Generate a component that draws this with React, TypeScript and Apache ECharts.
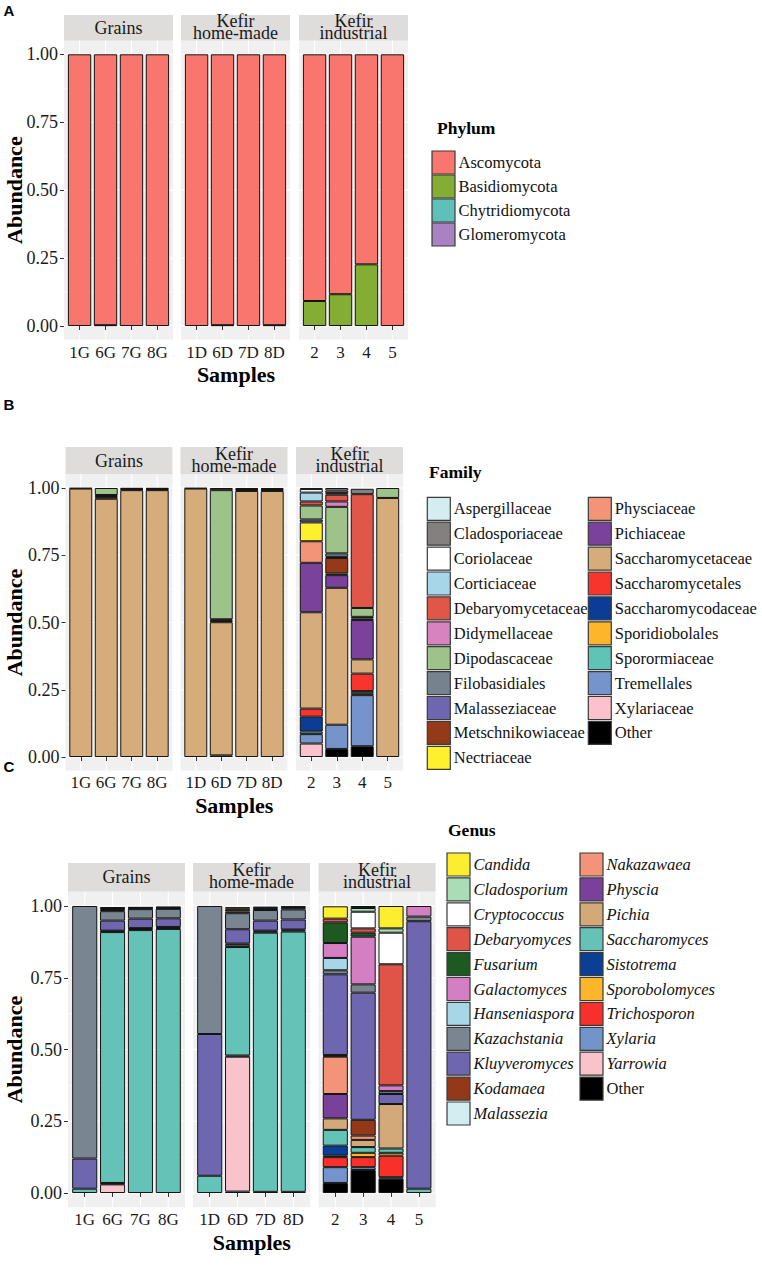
import React, { useEffect, useRef } from 'react';
import * as echarts from 'echarts';

const SERIF = 'Liberation Serif';
const SANS = 'Liberation Sans';

// ---------- shared ----------
const samples = ['1G', '6G', '7G', '8G', '1D', '6D', '7D', '8D', '2', '3', '4', '5'];
const facetTitles = ['Grains', 'Kefir\nhome-made', 'Kefir\nindustrial'];
const yTickValues = [0, 0.25, 0.5, 0.75, 1];

// ---------- Panel A: Phylum ----------
const phylumNames = ['Ascomycota', 'Basidiomycota', 'Chytridiomycota', 'Glomeromycota'];
const phylumColors = ['#F8766D', '#83AD33', '#5EC0B8', '#A882C2'];
const ascomycota = [1, 0.997, 1, 1, 1, 0.997, 1, 0.997, 0.908, 0.883, 0.773, 1];
const basidiomycota = [0, 0.003, 0, 0, 0, 0.003, 0, 0.003, 0.092, 0.117, 0.227, 0];
const chytridiomycota = [0, 0, 0, 0, 0, 0, 0, 0, 0, 0, 0, 0];
const glomeromycota = [0, 0, 0, 0, 0, 0, 0, 0, 0, 0, 0, 0];

// ---------- Panel B: Family ----------
const familyNames = ['Aspergillaceae', 'Cladosporiaceae', 'Coriolaceae', 'Corticiaceae', 'Debaryomycetaceae',
  'Didymellaceae', 'Dipodascaceae', 'Filobasidiales', 'Malasseziaceae', 'Metschnikowiaceae', 'Nectriaceae',
  'Physciaceae', 'Pichiaceae', 'Saccharomycetaceae', 'Saccharomycetales', 'Saccharomycodaceae',
  'Sporidiobolales', 'Sporormiaceae', 'Tremellales', 'Xylariaceae', 'Other'];
const familyColors = ['#D4EEF0', '#858080', '#FFFFFF', '#A6D6E8', '#E0574A', '#D783C0', '#9DC28A', '#76838F',
  '#6E67B0', '#953A19', '#FFF02E', '#F39479', '#7A429B', '#D6AC7B', '#F8352C', '#0B3D96', '#FDB62A',
  '#5EC5B6', '#7594CC', '#FBC2CB', '#000000'];
const fAspergillaceae = [0, 0, 0, 0, 0, 0, 0, 0, 0.003, 0.009, 0, 0];
const fCladosporiaceae = [0, 0, 0, 0, 0, 0, 0, 0, 0, 0.01, 0.02, 0];
const fCoriolaceae = [0, 0, 0, 0, 0, 0, 0, 0, 0.013, 0, 0, 0];
const fCorticiaceae = [0, 0, 0, 0, 0, 0, 0, 0, 0.033, 0.006, 0, 0];
const fDebaryomycetaceae = [0, 0, 0.003, 0.003, 0, 0.008, 0.004, 0.004, 0.015, 0.025, 0.423, 0];
const fDidymellaceae = [0, 0, 0, 0, 0, 0, 0, 0, 0, 0.02, 0, 0];
const fDipodascaceae = [0, 0.026, 0, 0, 0, 0.48, 0, 0, 0.052, 0.173, 0.033, 0.037];
const fFilobasidiales = [0, 0.004, 0.002, 0.002, 0, 0.004, 0.003, 0.003, 0, 0.013, 0.006, 0];
const fMalasseziaceae = [0, 0.004, 0, 0, 0, 0.003, 0, 0, 0.011, 0.004, 0.006, 0];
const fMetschnikowiaceae = [0, 0, 0, 0, 0, 0, 0, 0, 0, 0.058, 0, 0];
const fNectriaceae = [0, 0, 0, 0, 0, 0, 0, 0, 0.07, 0.006, 0, 0];
const fPhysciaceae = [0, 0, 0, 0, 0, 0, 0, 0, 0.08, 0, 0, 0];
const fPichiaceae = [0.002, 0.006, 0.003, 0.003, 0.002, 0.004, 0.004, 0.004, 0.184, 0.047, 0.146, 0];
const fSaccharomycetaceae = [0.998, 0.96, 0.992, 0.992, 0.998, 0.495, 0.989, 0.989, 0.358, 0.509, 0.053, 0.963];
const fSaccharomycetales = [0, 0, 0, 0, 0, 0, 0, 0, 0.03, 0, 0.065, 0];
const fSaccharomycodaceae = [0, 0, 0, 0, 0, 0, 0, 0, 0.055, 0, 0, 0];
const fSporidiobolales = [0, 0, 0, 0, 0, 0, 0, 0, 0, 0, 0.008, 0];
const fSporormiaceae = [0, 0, 0, 0, 0, 0, 0, 0, 0.01, 0, 0.007, 0];
const fTremellales = [0, 0, 0, 0, 0, 0, 0, 0, 0.035, 0.09, 0.19, 0];
const fXylariaceae = [0, 0, 0, 0, 0, 0, 0, 0, 0.05, 0, 0, 0];
const fOther = [0, 0, 0, 0, 0, 0.006, 0, 0, 0, 0.03, 0.04, 0];

// ---------- Panel C: Genus ----------
const genusNames = ['Candida', 'Cladosporium', 'Cryptococcus', 'Debaryomyces', 'Fusarium', 'Galactomyces',
  'Hanseniaspora', 'Kazachstania', 'Kluyveromyces', 'Kodamaea', 'Malassezia', 'Nakazawaea', 'Physcia',
  'Pichia', 'Saccharomyces', 'Sistotrema', 'Sporobolomyces', 'Trichosporon', 'Xylaria', 'Yarrowia', 'Other'];
const genusColors = ['#FBEE2E', '#A8DDB5', '#FFFFFF', '#DF5446', '#1D5A22', '#D47EC3', '#A6D6E8', '#7A8592',
  '#6E66AE', '#93391A', '#D3EEF0', '#F39479', '#7A419A', '#D4A97A', '#64C3B6', '#0B3E95', '#FDB62A',
  '#F8302A', '#7294CA', '#F9C3CC', '#000000'];
const gCandida = [0, 0.003, 0.002, 0.002, 0, 0.005, 0.003, 0.003, 0.043, 0.007, 0.078, 0];
const gCladosporium = [0, 0, 0, 0, 0, 0, 0, 0, 0, 0.013, 0.015, 0];
const gCryptococcus = [0, 0.003, 0, 0, 0, 0.004, 0, 0, 0, 0.058, 0.11, 0];
const gDebaryomyces = [0, 0.004, 0.003, 0.003, 0, 0.006, 0.004, 0.004, 0.013, 0.015, 0.422, 0];
const gFusarium = [0, 0, 0, 0, 0, 0, 0, 0, 0.072, 0.014, 0, 0];
const gGalactomyces = [0, 0.004, 0.002, 0.002, 0, 0.006, 0.004, 0.004, 0.052, 0.166, 0.02, 0.037];
const gHanseniaspora = [0, 0, 0, 0, 0, 0, 0, 0, 0.043, 0, 0, 0];
const gKazachstania = [0.88, 0.033, 0.033, 0.033, 0.446, 0.056, 0.037, 0.035, 0.014, 0.029, 0.01, 0.016];
const gKluyveromyces = [0.105, 0.035, 0.033, 0.03, 0.494, 0.05, 0.035, 0.035, 0.281, 0.443, 0.035, 0.932];
const gKodamaea = [0, 0.002, 0.003, 0.003, 0, 0.004, 0.003, 0.003, 0.003, 0.055, 0, 0];
const gMalassezia = [0, 0.003, 0.004, 0.004, 0, 0.008, 0.004, 0.004, 0.003, 0, 0, 0];
const gNakazawaea = [0, 0, 0, 0, 0, 0, 0, 0, 0.13, 0.015, 0, 0];
const gPhyscia = [0, 0, 0, 0, 0, 0, 0, 0, 0.085, 0, 0, 0];
const gPichia = [0, 0, 0, 0, 0, 0, 0, 0, 0.04, 0.025, 0.155, 0];
const gSaccharomyces = [0.015, 0.874, 0.916, 0.92, 0.06, 0.378, 0.903, 0.907, 0.055, 0.02, 0.015, 0.015];
const gSistotrema = [0, 0, 0, 0, 0, 0, 0, 0, 0.035, 0, 0, 0];
const gSporobolomyces = [0, 0.002, 0, 0, 0, 0, 0, 0, 0.005, 0.015, 0.01, 0];
const gTrichosporon = [0, 0.003, 0, 0, 0, 0.004, 0, 0, 0.035, 0.035, 0.075, 0];
const gXylaria = [0, 0, 0, 0, 0, 0, 0, 0, 0.055, 0.01, 0.005, 0];
const gYarrowia = [0, 0.03, 0, 0, 0, 0.47, 0, 0, 0, 0, 0, 0];
const gOther = [0, 0, 0, 0, 0, 0.005, 0.004, 0.004, 0.035, 0.08, 0.05, 0];

const phylumValues = [ascomycota, basidiomycota, chytridiomycota, glomeromycota];
const familyValues = [fAspergillaceae, fCladosporiaceae, fCoriolaceae, fCorticiaceae, fDebaryomycetaceae,
  fDidymellaceae, fDipodascaceae, fFilobasidiales, fMalasseziaceae, fMetschnikowiaceae, fNectriaceae,
  fPhysciaceae, fPichiaceae, fSaccharomycetaceae, fSaccharomycetales, fSaccharomycodaceae, fSporidiobolales,
  fSporormiaceae, fTremellales, fXylariaceae, fOther];
const genusValues = [gCandida, gCladosporium, gCryptococcus, gDebaryomyces, gFusarium, gGalactomyces,
  gHanseniaspora, gKazachstania, gKluyveromyces, gKodamaea, gMalassezia, gNakazawaea, gPhyscia, gPichia,
  gSaccharomyces, gSistotrema, gSporobolomyces, gTrichosporon, gXylaria, gYarrowia, gOther];

const panelData = [
  { title: 'Phylum', names: phylumNames, colors: phylumColors, values: phylumValues, italic: false },
  { title: 'Family', names: familyNames, colors: familyColors, values: familyValues, italic: false },
  { title: 'Genus', names: genusNames, colors: genusColors, values: genusValues, italic: true },
];

// ---------- layout ----------
const layouts = [
  { letter: 'A', letterY: 10, lefts: [64, 181, 299], w: 109, stripTop: 15, y1: 54.3, y0: 326,
    titleX: 437, titleY: 128, colX: [432], keyTop: 151, step: 24, rows: 4 },
  { letter: 'B', letterY: 404, lefts: [65.5, 180.5, 296], w: 107, stripTop: 447, y1: 488, y0: 757,
    titleX: 429, titleY: 472, colX: [427.3, 588.3], keyTop: 497.3, step: 24.9, rows: 11 },
  { letter: 'C', letterY: 766, lefts: [68, 193, 318.6], w: 117, stripTop: 863, y1: 906, y0: 1193,
    titleX: 448, titleY: 830, colX: [447, 580], keyTop: 853, step: 24.9, rows: 11 },
];

function txt(text: string, x: number, y: number, opts: any = {}) {
  return {
    type: 'text', x, y, rotation: opts.rotation || 0, silent: true,
    style: {
      text, fill: opts.fill || '#111', fontSize: opts.size || 17, fontFamily: opts.family || SERIF,
      fontWeight: opts.weight || 'normal', fontStyle: opts.style || 'normal',
      lineHeight: opts.lineHeight, textAlign: opts.align || 'left', textVerticalAlign: 'middle', verticalAlign: 'middle',
    },
  };
}

function buildOption() {
  const grid: any[] = [];
  const xAxis: any[] = [];
  const yAxis: any[] = [];
  const series: any[] = [];
  const graphic: any[] = [];

  layouts.forEach((pl, pi) => {
    const pd = panelData[pi];
    const span = pl.y0 - pl.y1;
    const pTop = pl.y1 - 0.05 * span;
    const pBot = pl.y0 + 0.05 * span;
    const yOf = (v: number) => pl.y0 - v * span;

    graphic.push(txt(pl.letter, 9, pl.letterY, { family: SANS, weight: 'bold', size: 15, align: 'center', fill: '#000' }));

    facetTitles.forEach((title, fi) => {
      const left = pl.lefts[fi];
      const band = pl.w / 4.2;
      const gLeft = left + 0.1 * band;
      // strip
      graphic.push({ type: 'rect', silent: true, z: -10, shape: { x: left, y: pl.stripTop, width: pl.w, height: pTop - pl.stripTop }, style: { fill: '#DFDDDB' } });
      const mid = (pl.stripTop + pTop) / 2;
      const twoLine = title.indexOf('\n') >= 0;
      graphic.push(txt(title, left + pl.w / 2, twoLine ? mid - 1 : mid, { size: 18, align: 'center', fill: '#1a1a1a', lineHeight: 12 }));
      // panel background
      graphic.push({ type: 'rect', silent: true, z: -10, shape: { x: left, y: pTop, width: pl.w, height: pBot - pTop }, style: { fill: '#F0F0F0' } });
      [0.125, 0.375, 0.625, 0.875].forEach((v) => {
        graphic.push({ type: 'line', silent: true, z: -9, shape: { x1: left, y1: yOf(v), x2: left + pl.w, y2: yOf(v) }, style: { stroke: '#FFFFFF', lineWidth: 0.6 } });
      });
      yTickValues.forEach((v) => {
        graphic.push({ type: 'line', silent: true, z: -9, shape: { x1: left, y1: yOf(v), x2: left + pl.w, y2: yOf(v) }, style: { stroke: '#FFFFFF', lineWidth: 1.1 } });
      });
      for (let k = 0; k < 4; k++) {
        const cx = gLeft + (k + 0.5) * band;
        graphic.push({ type: 'line', silent: true, z: -9, shape: { x1: cx, y1: pTop, x2: cx, y2: pBot }, style: { stroke: '#FFFFFF', lineWidth: 1.1 } });
      }

      const gi = grid.length;
      grid.push({ left: gLeft, top: pl.y1, width: 4 * band, height: span, containLabel: false });
      xAxis.push({
        type: 'category', gridIndex: gi, data: samples.slice(fi * 4, fi * 4 + 4), offset: 0.05 * span,
        axisLine: { show: false },
        axisTick: { show: true, length: 4, alignWithLabel: true, lineStyle: { color: '#333', width: 1 } },
        axisLabel: { interval: 0, margin: 4, fontSize: 17, fontFamily: SERIF, color: '#1a1a1a', hideOverlap: false },
        splitLine: { show: false },
      });
      yAxis.push({
        type: 'value', gridIndex: gi, min: 0, max: 1, interval: 0.25, show: fi === 0, offset: 0.1 * band,
        axisLine: { show: false },
        axisTick: { show: true, length: 4, lineStyle: { color: '#333', width: 1 } },
        axisLabel: { margin: 6, fontSize: 18, fontFamily: SERIF, color: '#1a1a1a', formatter: (v: number) => v.toFixed(2) },
        splitLine: { show: false },
      });
      for (let ci = pd.names.length - 1; ci >= 0; ci--) {
        const vals = pd.values[ci].slice(fi * 4, fi * 4 + 4);
        if (vals.every((v) => v <= 0)) continue;
        series.push({
          type: 'bar', name: pd.names[ci], stack: 'p' + pi + 'f' + fi, xAxisIndex: gi, yAxisIndex: gi,
          barWidth: '90%', silent: true,
          data: vals.map((v) => (v > 0 ? v : '-')),
          itemStyle: { color: pd.colors[ci], borderColor: '#141414', borderWidth: 1 },
        });
      }
    });

    // axis titles
    const plotLeft = pl.lefts[0];
    const plotRight = pl.lefts[2] + pl.w;
    graphic.push(txt('Abundance', 14, (pl.y1 + pl.y0) / 2, { size: 22, weight: 'bold', align: 'center', rotation: Math.PI / 2, fill: '#000' }));
    graphic.push(txt('Samples', (plotLeft + plotRight) / 2, pBot + 35, { size: 22, weight: 'bold', align: 'center', fill: '#000' }));

    // legend
    graphic.push(txt(pd.title, pl.titleX, pl.titleY, { size: 17.5, weight: 'bold', fill: '#000' }));
    pd.names.forEach((nm, i) => {
      const col = Math.floor(i / pl.rows);
      const row = i % pl.rows;
      const kx = pl.colX[col];
      const ky = pl.keyTop + row * pl.step;
      graphic.push({ type: 'rect', silent: true, shape: { x: kx, y: ky, width: 23, height: 23 }, style: { fill: pd.colors[i], stroke: '#3a3a3a', lineWidth: 1.2 } });
      graphic.push(txt(nm, kx + 26.5, ky + 11.5, { size: 16.5, style: pd.italic && nm !== 'Other' ? 'italic' : 'normal', fill: '#111' }));
    });
  });

  return { animation: false, backgroundColor: '#FFFFFF', grid, xAxis, yAxis, series, graphic };
}

export default function App() {
  const ref = useRef<HTMLDivElement>(null);
  useEffect(() => {
    const chart = echarts.init(ref.current!, undefined, { renderer: 'svg', width: 762, height: 1268 });
    chart.setOption(buildOption() as any);
    return () => chart.dispose();
  }, []);
  return <div ref={ref} style={{ position: 'absolute', left: 0, top: 0, width: 762, height: 1268, background: '#fff' }} />;
}
